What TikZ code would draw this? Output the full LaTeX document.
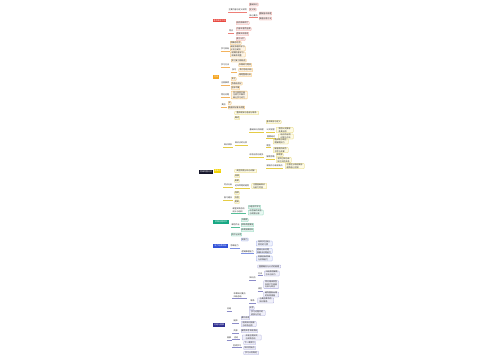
\documentclass[tikz,border=0pt]{standalone}
\usepackage{fontspec}
\newfontfamily\cjk{Noto Sans CJK SC}
\usetikzlibrary{calc,backgrounds}
\definecolor{rootC}{HTML}{15152A}
\definecolor{rMain}{HTML}{E8453C}\definecolor{rLine}{HTML}{EE7F78}\definecolor{rFill}{HTML}{FDEDEC}\definecolor{rDraw}{HTML}{F2A29B}
\definecolor{oMain}{HTML}{F5A623}\definecolor{oLine}{HTML}{F3B35E}\definecolor{oFill}{HTML}{FEF5E7}\definecolor{oDraw}{HTML}{F5B95A}
\definecolor{yMain}{HTML}{F2D200}\definecolor{yLine}{HTML}{E5CC45}\definecolor{yFill}{HTML}{FEFBE6}\definecolor{yDraw}{HTML}{E3D060}
\definecolor{gMain}{HTML}{17A884}\definecolor{gLine}{HTML}{55BE98}\definecolor{gFill}{HTML}{E8F8F2}\definecolor{gDraw}{HTML}{78CFAF}
\definecolor{bMain}{HTML}{2F50D8}\definecolor{bLine}{HTML}{7F92E2}\definecolor{bFill}{HTML}{EEF1FC}\definecolor{bDraw}{HTML}{9DAAEA}
\definecolor{iMain}{HTML}{2E2E90}\definecolor{iLine}{HTML}{8C8CC8}\definecolor{iFill}{HTML}{F0F0FA}\definecolor{iDraw}{HTML}{A8A8DA}
\tikzset{
 base/.style={inner sep=0.3pt, font=\cjk\fontsize{2}{2.6}\selectfont, align=left, minimum height=3pt, text=black!85, anchor=west},
 leafR/.style={base, draw=rDraw, fill=rFill, line width=0.35pt, rounded corners=0.5pt},
 leafO/.style={base, draw=oDraw, fill=oFill, line width=0.35pt, rounded corners=0.5pt},
 leafY/.style={base, draw=yDraw, fill=yFill, line width=0.35pt, rounded corners=0.5pt},
 leafG/.style={base, draw=gDraw, fill=gFill, line width=0.35pt, rounded corners=0.5pt},
 leafB/.style={base, draw=bDraw, fill=bFill, line width=0.35pt, rounded corners=0.5pt},
 leafI/.style={base, draw=iDraw, fill=iFill, line width=0.35pt, rounded corners=0.5pt},
 lineR/.style={draw=rLine, line width=0.45pt}, lineO/.style={draw=oLine, line width=0.45pt},
 lineY/.style={draw=yLine, line width=0.45pt}, lineG/.style={draw=gLine, line width=0.45pt},
 lineB/.style={draw=bLine, line width=0.45pt}, lineI/.style={draw=iLine, line width=0.45pt},
 mainnode/.style={base, text=white, minimum height=3.8pt, inner sep=0.5pt},
 trunk/.style={line width=1.5pt}
}
% box leaf: branch, name, x, y, width, text
\newcommand\bnode[6]{\node[leaf#1, minimum width=#5pt] (#2) at (#3,#4) {#6};}
% underlined node
\newcommand\unode[6]{\node[base, minimum width=#5pt] (#2) at (#3,#4) {#6};
 \draw[line#1, line width=0.4pt] (#2.south west) -- (#2.south east);}
% main node: fill colour, name, x, y, width, text
\newcommand\mnode[6]{\node[mainnode, fill=#1, minimum width=#5pt] (#2) at (#3,#4) {#6};}
% connector
\newcommand\cn[3]{\draw[#1, rounded corners=0.8pt] (#2) -| ($(#2)!0.5!(#3)$) |- (#3);}
\begin{document}
\begin{tikzpicture}[x=1pt,y=-1pt]
\useasboundingbox (0,0) rectangle (500,360);
\fill[white] (0,0) rectangle (500,360);
% root and main nodes
\node[mainnode, fill=rootC, minimum width=14pt] (root) at (199,172) {思维导图总览};
\mnode{rMain}{red}{213}{20.5}{13}{基本概念介绍}
\mnode{oMain}{ora}{213}{77}{6}{方法}
\mnode{yMain}{yel}{214}{171}{7}{重难点}
\mnode{gMain}{gre}{213}{222}{16}{实践应用环节}
\mnode{bMain}{blu}{213}{246}{15}{能力培养目标}
\mnode{iMain}{ind}{213}{325}{12}{总结与拓展}
% ---------------- red
\unode{R}{A}{228}{10}{19}{主要内容与定义说明}
\bnode{R}{A1}{249}{4.5}{9}{基础知识}
\bnode{R}{A2}{249}{9.5}{7}{定义域}
\unode{R}{A3}{249}{15.5}{8}{核心要点}
\bnode{R}{A31}{259}{13.5}{12}{理解基本原理}
\bnode{R}{A32}{259}{18.5}{12}{掌握应用方法}
\unode{R}{B}{228}{31}{6}{特点}
\bnode{R}{B1}{236}{23}{13}{结构清晰明了}
\bnode{R}{B2}{236}{29}{15}{内容丰富而全面}
\bnode{R}{B3}{236}{34}{12}{逻辑关系紧密}
\bnode{R}{B4}{236}{39}{9}{便于记忆}
% ---------------- orange
\unode{O}{C}{220.5}{49}{8}{学习目标}
\bnode{O}{C1}{230}{43}{11}{明确总任务}
\bnode{O}{C2}{230}{48.5}{15}{制定合理的学习\\计划与安排}
\bnode{O}{C3}{230}{54.5}{15}{定期检查学习\\效果并调整}
\unode{O}{D}{220.5}{65}{9}{学习方法}
\bnode{O}{D1}{231}{60.5}{15}{预习复习相结合}
\unode{O}{D2}{231}{70}{6}{技巧}
\bnode{O}{D21}{238.5}{65}{13}{多做练习题目}
\bnode{O}{D22}{238.5}{70}{14}{及时总结归纳}
\bnode{O}{D23}{238.5}{75}{13}{错题整理分析}
\unode{O}{E}{220.5}{83}{9}{注意事项}
\bnode{O}{E1}{231}{79}{5}{专注}
\bnode{O}{E2}{231}{83.5}{11}{劳逸结合好}
\bnode{O}{E3}{231}{88}{8}{坚持不懈}
\unode{O}{F}{220.5}{95}{9}{常见问题}
\bnode{O}{F1}{231}{95}{16}{学习效率不高\\注意力不集中\\缺乏学习动力}
\unode{O}{G}{220.5}{105}{6}{其他}
\bnode{O}{G1}{228}{103}{3}{无}
\bnode{O}{G2}{228}{107.5}{16}{根据实际情况调整}
% ---------------- yellow
\unode{Y}{H}{223}{145}{10}{知识体系}
\bnode{Y}{H1}{234.5}{113}{24}{整体框架与各部分联系}
\bnode{Y}{H2}{234.5}{118}{5}{概述}
\unode{Y}{I}{234.5}{143}{13}{知识点的分类}
\unode{Y}{J}{249}{130}{15}{基础知识点梳理}
\bnode{Y}{J1}{266}{122}{15}{基本概念与定义}
\unode{Y}{J2}{266}{130}{8}{公式定理}
\bnode{Y}{J21}{276}{130}{17}{常用公式推导\\及其应用}
\unode{Y}{J3}{266}{136.5}{10}{重要结论}
\bnode{Y}{J31}{278}{136.5}{15}{结论的证明\\过程与方法}
\unode{Y}{K}{249}{155}{15}{综合应用与提升}
\unode{Y}{K1}{266}{145.5}{5}{题型}
\bnode{Y}{K11}{273}{141.5}{15}{选择题与填空\\题解题技巧}
\bnode{Y}{K12}{273}{150}{15}{解答题的规范\\书写与步骤}
\unode{Y}{K2}{266}{157}{8}{解题思路}
\bnode{Y}{K21}{276}{155}{7}{审题意}
\bnode{Y}{K22}{276}{160}{15}{寻找已知与未\\知之间的关系}
\unode{Y}{K3}{266}{166}{17}{易错点与易混淆点}
\bnode{Y}{K31}{285}{166}{19}{注意区分相近概念\\避免粗心犯错}
\bnode{Y}{H3}{234.5}{171}{22}{典型例题分析与讲解}
\bnode{Y}{H4}{234.5}{176}{5}{拓展}
\unode{Y}{L}{223}{185}{10}{考点分析}
\bnode{Y}{L1}{234.5}{181}{4}{高频}
\unode{Y}{L2}{234.5}{186}{15}{近年命题的趋势}
\bnode{Y}{L21}{251.5}{186}{15}{注重基础知识\\与能力考查}
\unode{Y}{M}{223}{198}{10}{复习建议}
\bnode{Y}{M1}{234.5}{193}{4}{回顾}
\bnode{Y}{M2}{234.5}{197.5}{4}{巩固}
\bnode{Y}{M3}{234.5}{202}{4}{提高}
% ---------------- green
\unode{G}{N}{231}{210}{15}{课堂实践活动\\设计与组织}
\bnode{G}{N1}{248}{207}{12}{小组合作学习}
\bnode{G}{N2}{248}{212.5}{15}{动手操作实验\\与观察记录}
\unode{G}{O}{231}{225}{8}{课后作业}
\bnode{G}{O1}{241}{220}{7}{书面题}
\bnode{G}{O2}{241}{225}{12}{实践调查报告}
\bnode{G}{O3}{241}{230}{12}{阅读拓展材料}
\bnode{G}{P}{231}{234.5}{10}{评价与反思}
% ---------------- blue
\unode{B}{Q}{229.5}{246}{10}{思维能力}
\bnode{B}{Q1}{241}{239.5}{7}{观察力}
\unode{B}{R}{241}{251.5}{13}{逻辑推理能力}
\bnode{B}{R1}{256}{243.5}{16}{培养学生独立\\思考的习惯}
\bnode{B}{R2}{256}{251}{16}{提高分析问题\\和解决问题能力}
\bnode{B}{R3}{256}{258.5}{16}{发展创新思维\\与实践能力}
% ---------------- indigo
\unode{I}{S}{226.5}{309}{4}{总结}
\unode{I}{U}{232}{295}{15}{本章知识要点\\归纳总结}
\unode{I}{W}{249}{278}{7}{知识点}
\bnode{I}{W1}{257.5}{266.5}{23}{重要概念与公式的梳理}
\unode{I}{W2}{257.5}{273.5}{5}{方法}
\bnode{I}{W21}{264}{273.5}{15}{归纳常用解题\\方法与技巧}
\unode{I}{W3}{257.5}{289}{4}{误区}
\bnode{I}{W31}{263.5}{284.5}{15}{常见错误类型\\及其产生原因\\分析与纠正}
\bnode{I}{W32}{263.5}{294.5}{15}{避免重复出错\\的有效措施}
\unode{I}{X}{249}{301}{7}{联系}
\bnode{I}{X1}{257.5}{300.5}{16}{与其他章节的\\知识联系}
\bnode{I}{U4}{249}{308}{5}{反思}
\bnode{I}{U5}{249}{313}{16}{学习过程中的\\收获与不足}
\unode{I}{V}{232}{321}{7}{延伸}
\bnode{I}{V1}{241}{318}{8}{课外阅读}
\bnode{I}{V2}{241}{324}{15}{相关知识拓展\\与综合运用}
\unode{I}{T}{226.5}{338}{4}{拓展}
\unode{I}{T1}{232}{331}{7}{资源}
\bnode{I}{T11}{241}{331}{16}{推荐参考书目资料}
\unode{I}{T2}{232}{337.5}{8}{活动}
\bnode{I}{T21}{242}{337.5}{19}{开展主题探究\\与实践活动}
\unode{I}{T3}{232}{345.5}{10}{后续学习}
\bnode{I}{T31}{243.5}{343}{12}{下一章预习}
\bnode{I}{T32}{243.5}{348}{12}{知识衔接点}
\bnode{I}{T33}{243.5}{353}{15}{学习计划制定}
% ---------------- connectors
\begin{pgfonlayer}{background}
\draw[trunk, draw=rLine!75] (root.east) -- (root.east |- red.west) -- (red.west);
\draw[trunk, draw=oLine!85] (root.east) -- (root.east |- ora.west) -- (ora.west);
\draw[trunk, draw=yLine] (root.east) -- (root.east |- yel.west) -- (yel.west);
\draw[trunk, draw=iLine] (root.east) -- (root.east |- ind.west) -- (ind.west);
\draw[trunk, draw=bLine] (root.east) -- (root.east |- blu.west) -- (blu.west);
\draw[trunk, draw=gLine] (root.east) -- (root.east |- gre.west) -- (gre.west);
% red
\cn{lineR}{red.east}{A.south west}
\cn{lineR}{red.east}{B.south west}
\cn{lineR}{A.south east}{A1.west}
\cn{lineR}{A.south east}{A2.west}
\cn{lineR}{A.south east}{A3.south west}
\cn{lineR}{A3.south east}{A31.west}
\cn{lineR}{A3.south east}{A32.west}
\foreach \c in {B1,B2,B3,B4}{\cn{lineR}{B.south east}{\c.west}}
% orange
\foreach \c in {C,D,E,F,G}{\cn{lineO}{ora.east}{\c.south west}}
\foreach \c in {C1,C2,C3}{\cn{lineO}{C.south east}{\c.west}}
\cn{lineO}{D.south east}{D1.west}
\cn{lineO}{D.south east}{D2.south west}
\foreach \c in {D21,D22,D23}{\cn{lineO}{D2.south east}{\c.west}}
\foreach \c in {E1,E2,E3}{\cn{lineO}{E.south east}{\c.west}}
\cn{lineO}{F.south east}{F1.west}
\foreach \c in {G1,G2}{\cn{lineO}{G.south east}{\c.west}}
% yellow
\foreach \c in {H,L,M}{\cn{lineY}{yel.east}{\c.south west}}
\foreach \c in {H1,H2,H3,H4}{\cn{lineY}{H.south east}{\c.west}}
\cn{lineY}{H.south east}{I.south west}
\foreach \c in {J,K}{\cn{lineY}{I.south east}{\c.south west}}
\cn{lineY}{J.south east}{J1.west}
\foreach \c in {J2,J3}{\cn{lineY}{J.south east}{\c.south west}}
\cn{lineY}{J2.south east}{J21.west}
\cn{lineY}{J3.south east}{J31.west}
\foreach \c in {K1,K2,K3}{\cn{lineY}{K.south east}{\c.south west}}
\foreach \c in {K11,K12}{\cn{lineY}{K1.south east}{\c.west}}
\foreach \c in {K21,K22}{\cn{lineY}{K2.south east}{\c.west}}
\cn{lineY}{K3.south east}{K31.west}
\cn{lineY}{L.south east}{L1.west}
\cn{lineY}{L.south east}{L2.south west}
\cn{lineY}{L2.south east}{L21.west}
\foreach \c in {M1,M2,M3}{\cn{lineY}{M.south east}{\c.west}}
% green
\foreach \c in {N,O}{\cn{lineG}{gre.east}{\c.south west}}
\cn{lineG}{gre.east}{P.west}
\foreach \c in {N1,N2}{\cn{lineG}{N.south east}{\c.west}}
\foreach \c in {O1,O2,O3}{\cn{lineG}{O.south east}{\c.west}}
% blue
\cn{lineB}{blu.east}{Q.south west}
\cn{lineB}{Q.south east}{Q1.west}
\cn{lineB}{Q.south east}{R.south west}
\foreach \c in {R1,R2,R3}{\cn{lineB}{R.south east}{\c.west}}
% indigo
\foreach \c in {S,T}{\cn{lineI}{ind.east}{\c.south west}}
\foreach \c in {U,V}{\cn{lineI}{S.south east}{\c.south west}}
\foreach \c in {W,X}{\cn{lineI}{U.south east}{\c.south west}}
\foreach \c in {U4,U5}{\cn{lineI}{U.south east}{\c.west}}
\cn{lineI}{W.south east}{W1.west}
\foreach \c in {W2,W3}{\cn{lineI}{W.south east}{\c.south west}}
\cn{lineI}{W2.south east}{W21.west}
\foreach \c in {W31,W32}{\cn{lineI}{W3.south east}{\c.west}}
\cn{lineI}{X.south east}{X1.west}
\foreach \c in {V1,V2}{\cn{lineI}{V.south east}{\c.west}}
\foreach \c in {T1,T2,T3}{\cn{lineI}{T.south east}{\c.south west}}
\cn{lineI}{T1.south east}{T11.west}
\cn{lineI}{T2.south east}{T21.west}
\foreach \c in {T31,T32,T33}{\cn{lineI}{T3.south east}{\c.west}}
\end{pgfonlayer}
\end{tikzpicture}
\end{document}
